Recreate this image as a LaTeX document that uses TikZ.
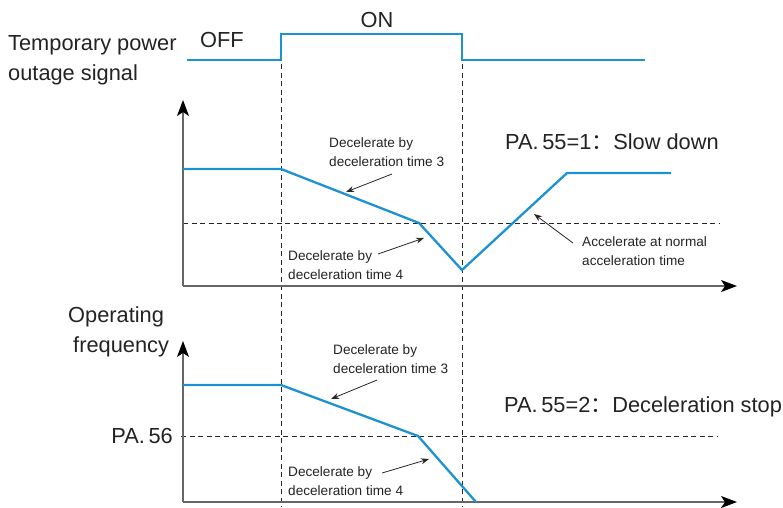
\documentclass[tikz,border=0pt]{standalone}
\usepackage{fontspec}
\setmainfont{Liberation Sans}
\newfontfamily\cjk{Noto Sans CJK SC}
\usetikzlibrary{arrows.meta}
\definecolor{sigblue}{RGB}{28,146,210}
\definecolor{txt}{RGB}{35,35,35}
\tikzset{
  sig/.style={draw=sigblue, line width=2.3pt, line join=miter},
  guide/.style={draw=black!85, dash pattern=on 5pt off 3.5pt, line width=0.9pt},
  axisline/.style={draw=black!60, line width=1.1pt, -{Stealth[length=16pt,width=12pt,inset=4pt,color=black]}},
  note/.style={draw=black!85, line width=0.8pt, -{Stealth[length=8pt,width=6pt]}},
  big/.style={font=\fontsize{21.8}{25}\selectfont, text=txt, inner sep=0pt},
  small/.style={font=\fontsize{13.6}{19}\selectfont, text=txt, inner sep=0pt, align=left},
}
\begin{document}
\begin{tikzpicture}[x=1pt,y=-1pt]
\useasboundingbox (0,0) rectangle (783,507);
% ---------- labels of signal ----------
\node[big, anchor=west] (tp) at (8,45) {Temporary power};
\node[big, anchor=west] (os) at (8,75) {outage signal};
\node[big] (off) at (222,40) {OFF};
\node[big] (on) at (377,20) {ON};
% ---------- signal waveform ----------
\coordinate (s0) at (187,60);
\coordinate (s1) at (281,60);
\coordinate (s2) at (281,34);
\coordinate (s3) at (462,34);
\coordinate (s4) at (462,60);
\coordinate (s5) at (645,60);
\draw[sig] (s0) -- (s1) -- (s2) -- (s3) -- (s4) -- (s5);
% ---------- vertical guides ----------
\coordinate (g1t) at (281,64);
\coordinate (g1b) at (281,507);
\coordinate (g2t) at (462,64);
\coordinate (g2b) at (462,507);
\draw[guide] (g1t) -- (g1b);
\draw[guide] (g2t) -- (g2b);
% ---------- middle chart ----------
\coordinate (mo) at (183,286);
\coordinate (my) at (183,100);
\coordinate (mx) at (737,286);
\draw[guide] (183,223) coordinate (mh0) -- (720,223) coordinate (mh1);
\draw[axisline] (mo) -- (my);
\draw[axisline] (mo) -- (mx);
\coordinate (m0) at (183,169);
\coordinate (m1) at (281,169);
\coordinate (m2) at (419,223);
\coordinate (m3) at (462,270);
\coordinate (m4) at (567,173);
\coordinate (m5) at (671,173);
\draw[sig] (m0) -- (m1) -- (m2) -- (m3) -- (m4) -- (m5);
\node[small, anchor=west] (md3) at (329,152) {Decelerate by\\deceleration time 3};
\node[small, anchor=west] (md4) at (288,265) {Decelerate by\\deceleration time 4};
\node[small, anchor=west] (macc) at (582,251) {Accelerate at normal\\acceleration time};
\node[big, anchor=west] (m55) at (505,142) {PA.\,55=1{\cjk ：}Slow down};
\coordinate (a1s) at (392,174); \coordinate (a1e) at (346,192);
\coordinate (a2s) at (378,254); \coordinate (a2e) at (424,238);
\coordinate (a3s) at (573,243); \coordinate (a3e) at (534,214);
\draw[note] (a1s) -- (a1e);
\draw[note] (a2s) -- (a2e);
\draw[note] (a3s) -- (a3e);
% ---------- bottom chart ----------
\node[big, anchor=west] (opf1) at (68,317) {Operating};
\node[big, anchor=west] (opf2) at (73,347) {frequency};
\node[big, anchor=east] (pa56) at (173,436) {PA.\,56};
\coordinate (bo) at (183,502);
\coordinate (by) at (183,341);
\coordinate (bx) at (737,502);
\draw[guide] (pa56.east) ++(8,0) coordinate (bh0) -- (718,436) coordinate (bh1);
\draw[axisline] (bo) -- (by);
\draw[axisline] (bo) -- (bx);
\coordinate (b0) at (183,385);
\coordinate (b1) at (281,385);
\coordinate (b2) at (418,436);
\coordinate (b3) at (476,502);
\draw[sig] (b0) -- (b1) -- (b2) -- (b3);
\node[small, anchor=west] (bd3) at (333,359) {Decelerate by\\deceleration time 3};
\node[small, anchor=west] (bd4) at (288,481) {Decelerate by\\deceleration time 4};
\node[big, anchor=west] (b55) at (504,407) {PA.\,55=2{\cjk ：}Deceleration stop};
\coordinate (c1s) at (377,380); \coordinate (c1e) at (331,399);
\coordinate (c2s) at (382,473); \coordinate (c2e) at (429,459);
\draw[note] (c1s) -- (c1e);
\draw[note] (c2s) -- (c2e);
\end{tikzpicture}
\end{document}
